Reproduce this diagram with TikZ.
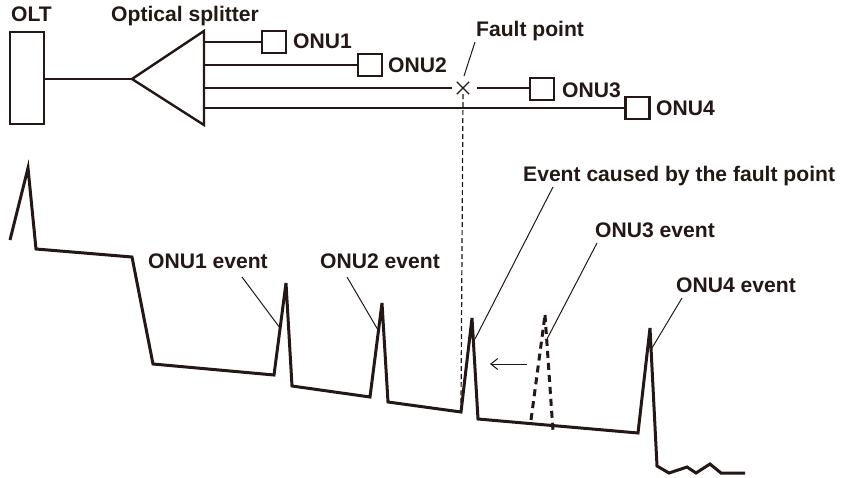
\documentclass[tikz,border=0pt]{standalone}
\usepackage{fontspec}
\setmainfont{Liberation Sans}
\usetikzlibrary{arrows.meta,shapes.misc}
\definecolor{ink}{HTML}{231815}
\begin{document}
\begin{tikzpicture}[x=1pt,y=-1pt,
  lbl/.style={inner sep=0, anchor=base west, font=\fontsize{21.1}{24}\selectfont\bfseries, text=ink},
  onubox/.style={draw=ink, line width=2.4, minimum width=24, minimum height=22, inner sep=0},
  fiber/.style={draw=ink, line width=2.4},
  thinfiber/.style={draw=ink, line width=1.1},
  trace/.style={draw=ink, line width=3, line join=miter},
  ghost/.style={draw=ink, line width=3, dash pattern=on 7pt off 5pt},
  leader/.style={draw=ink, line width=1},
  faultline/.style={draw=ink, line width=1.2, dash pattern=on 5pt off 3pt}]
\useasboundingbox (0,0) rectangle (841,477);
\fill[white] (0,0) rectangle (841,477);

% ---- top: network ----
\node[lbl] (oltlbl) at (11,21) {OLT};
\node[lbl] (spllbl) at (111,21) {Optical splitter};
\node[draw=ink, line width=2.4, minimum width=33.5, minimum height=92, inner sep=0] (olt) at (27,78) {};
\coordinate (tip) at (132,79);
\coordinate (btop) at (204,31);
\coordinate (bbot) at (204,125);
\draw[draw=ink, line width=2.4, line join=miter] (tip) -- (btop) -- (bbot) -- cycle;
\draw[thinfiber] (olt.east |- tip) -- (tip);

\coordinate (s1) at (204,42);
\coordinate (s2) at (204,65);
\coordinate (s3) at (204,88);
\coordinate (s4) at (204,108);

\node[onubox] (onu1) at (274,42) {};
\node[onubox] (onu2) at (370,65) {};
\node[onubox] (onu3) at (542,89) {};
\node[onubox] (onu4) at (637.5,108) {};
\node[lbl] (onu1lbl) at (293,48) {ONU1};
\node[lbl] (onu2lbl) at (388,72) {ONU2};
\node[lbl] (onu3lbl) at (562,97) {ONU3};
\node[lbl] (onu4lbl) at (656,115) {ONU4};

\node[cross out, draw=ink, line width=1.4, minimum size=11, inner sep=0] (fault) at (463,88) {};
\node[lbl] (faultlbl) at (476,36) {Fault point};
\coordinate (fltop) at (475,42);
\coordinate (flend) at (464,76);
\draw[leader] (fltop) -- (flend);

\draw[fiber] (s1) -- (onu1.west);
\draw[fiber] (s2) -- (onu2.west);
\draw[fiber, shorten >=5pt] (s3) -- (fault.west);
\draw[fiber, shorten <=8pt] (fault.east) -- (onu3.west |- s3);
\draw[fiber] (s4) -- (onu4.west);

\coordinate (dend) at (461,406);
\draw[faultline] (fault.south) -- (dend);

% ---- bottom: trace ----
\draw[trace] (10,240) -- (28,168) -- (36,249) -- (132,257) -- (153,364)
  -- (274,375) -- (286,283) -- (292,386) -- (370,397) -- (382,303)
  -- (388,402) -- (461,412) -- (472,318) -- (478,419) -- (638,433)
  -- (650,328) -- (657,466) -- (669,473) -- (687,467) -- (696,473)
  -- (710,464) -- (721,473) -- (745,473);

\coordinate (g1) at (531,420);
\coordinate (g2) at (545,315);
\coordinate (g3) at (553,431);
\draw[ghost] (g1) -- (g2);
\draw[ghost] (g2) -- (g3);

\coordinate (ar1) at (527,364);
\coordinate (ar2) at (490,364);
\draw[draw=ink, line width=1, -{Straight Barb[length=7pt,width=11pt]}] (ar1) -- (ar2);

\node[lbl] (e1lbl) at (148,268) {ONU1 event};
\node[lbl] (e2lbl) at (320,268) {ONU2 event};
\node[lbl] (eflbl) at (523,181) {Event caused by the fault point};
\node[lbl] (e3lbl) at (595,237) {ONU3 event};
\node[lbl] (e4lbl) at (676,292) {ONU4 event};

\coordinate (l1a) at (242,277); \coordinate (l1b) at (280,328);
\coordinate (l2a) at (347,277); \coordinate (l2b) at (378,330);
\coordinate (lfa) at (553,187); \coordinate (lfb) at (475,339);
\coordinate (l3a) at (597,243); \coordinate (l3b) at (547,339);
\coordinate (l4a) at (682,298); \coordinate (l4b) at (652,348);
\draw[leader] (l1a) -- (l1b);
\draw[leader] (l2a) -- (l2b);
\draw[leader] (lfa) -- (lfb);
\draw[leader] (l3a) -- (l3b);
\draw[leader] (l4a) -- (l4b);
\end{tikzpicture}
\end{document}
